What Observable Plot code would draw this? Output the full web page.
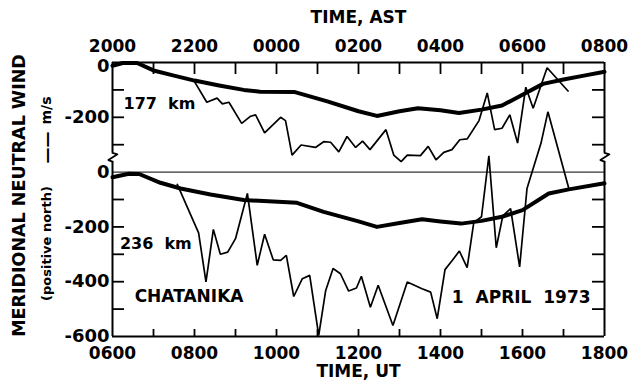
<!DOCTYPE html>
<html><head><meta charset="utf-8">
<script src="https://cdn.jsdelivr.net/npm/d3@7"></script>
<script src="https://cdn.jsdelivr.net/npm/@observablehq/plot@0.6"></script>
<style>body{margin:0;background:#fff}</style>
</head><body><div id="chart"></div>
<script>
// ---------- data (UT hours, m/s) ----------
const model177UT = [6.0, 6.25, 6.6, 7.0, 7.5, 8.0, 8.6, 9.2, 9.6, 10.45, 11.24, 12.0, 12.45, 13.0, 13.45, 14.0, 14.45, 15.0, 15.5, 16.0, 16.5, 17.0, 17.5, 18.0];
const model177V  = [-12, -2, -2, -29, -48, -66, -84, -100, -107, -108, -142, -178, -195, -178, -167, -174, -184, -172, -157, -118, -78, -62, -48, -34];

const data177UT = [8.0, 8.3, 8.55, 8.68, 8.84, 9.15, 9.37, 9.49, 9.71, 10.1, 10.22, 10.38, 10.6, 10.95, 11.15, 11.32, 11.52, 11.72, 11.93, 12.1, 12.28, 12.67, 12.86, 13.04, 13.19, 13.51, 13.7, 13.89, 14.08, 14.28, 14.47, 14.65, 14.94, 15.14, 15.32, 15.5, 15.69, 15.88, 16.08, 16.26, 16.6, 17.11];
const data177V  = [-70, -145, -130, -151, -145, -222, -196, -191, -257, -200, -212, -338, -301, -310, -289, -291, -326, -270, -310, -287, -318, -245, -338, -362, -338, -340, -306, -355, -328, -318, -282, -279, -212, -111, -245, -240, -191, -294, -90, -167, -19, -104];

const model236UT = [6.0, 6.4, 6.65, 7.17, 7.66, 8.39, 9.2, 10.5, 11.15, 12.0, 12.45, 13.0, 13.55, 14.0, 14.5, 15.0, 15.5, 16.0, 16.64, 17.13, 18.0];
const model236V  = [-19, -6, -7, -39, -60, -82, -102, -112, -145, -180, -200, -186, -172, -180, -188, -178, -163, -139, -78, -63, -41];

const data236UT = [7.58, 8.1, 8.28, 8.46, 8.63, 8.81, 9.0, 9.29, 9.53, 9.71, 9.92, 10.1, 10.24, 10.42, 10.63, 10.81, 11.03, 11.2, 11.38, 11.56, 11.76, 11.95, 12.07, 12.29, 12.48, 12.84, 13.19, 13.55, 13.76, 13.92, 14.11, 14.29, 14.46, 14.65, 14.81, 15.0, 15.18, 15.36, 15.52, 15.71, 15.93, 16.11, 16.45, 16.62, 17.13];
const data236V  = [-45, -222, -401, -209, -300, -292, -243, -78, -340, -227, -320, -322, -304, -454, -389, -377, -596, -432, -352, -371, -434, -423, -380, -493, -413, -560, -401, -426, -438, -535, -356, -322, -288, -349, -185, -163, 59, -276, -160, -133, -346, -60, 105, 220, -60];

// axis ticks / labels
const utLabelTicks = [6, 8, 10, 12, 14, 16, 18];
const utLabels     = ["0600", "0800", "1000", "1200", "1400", "1600", "1800"];
const astLabels    = ["2000", "2200", "0000", "0200", "0400", "0600", "0800"];
const hourTicks    = [7, 8, 9, 10, 11, 12, 13, 14, 15, 16, 17];
const upperTopLabel = [0];
const upperLabelVals = [-200];
const lowerLabelVals = [0, -200, -400, -600];
const upperMinorVals = [-100, -200, -300];
const lowerMinorVals = [-100, -200, -300, -400, -500];

// annotations
const annUpperText = ["177\u00a0\u00a0km"];
const annUpperUT = [6.27];
const annUpperV = [-150];
const annLowerText = ["236\u00a0\u00a0km", "CHATANIKA"];
const annLowerUT = [6.18, 6.54];
const annLowerV = [-262, -454];
const dateText = ["1\u00a0\u00a0APRIL\u00a0\u00a01973"];
const dateUT = [17.66];
const dateV = [-457];

// ---------- layout ----------
const OFFSET = 400;             // upper panel is shifted up by this many m/s on the shared scale
const BREAK_HI = 70, BREAK_LO = 38;
const W = 637, H = 380, ML = 112, MR = 33, MT = 62, MB = 44;
const plotW = W - ML - MR, plotH = H - MT - MB;

const up = v => v + OFFSET;
const tbl = (xs, vs, f) => xs.map((x, i) => ({x, y: f(vs[i])}));
const id = v => v;

const m177 = tbl(model177UT, model177V, up);
const d177 = tbl(data177UT, data177V, up);
const m236 = tbl(model236UT, model236V, id);
const d236 = tbl(data236UT, data236V, id);

const yLabelPos = [...upperLabelVals.map(up), ...lowerLabelVals];
const yLabelTxt = [...upperLabelVals, ...lowerLabelVals].map(v => String(v));
const yTopPos = upperTopLabel.map(up);
const yTickPos = [...upperMinorVals.map(up), ...lowerMinorVals];

const zig = x0 => [
  {x: x0, y: BREAK_HI}, {x: x0 + 0.12, y: BREAK_HI - 5}, {x: x0 - 0.1, y: BREAK_LO + 6}, {x: x0, y: BREAK_LO}
];
const [xmin, xmax] = [6, 18];

const chart = Plot.plot({
  width: W, height: H,
  marginLeft: ML, marginRight: MR, marginTop: MT, marginBottom: MB,
  style: {fontFamily: "DejaVu Sans", fontSize: "17px", fontWeight: "bold", background: "#fff", color: "#000"},
  x: {domain: [xmin, xmax]},
  y: {domain: [-600, OFFSET]},
  marks: [
    // axes labels
    Plot.axisX({anchor: "bottom", ticks: utLabelTicks, tickFormat: d => utLabels[utLabelTicks.indexOf(d)], tickSize: 0, tickPadding: 10, label: null, fontSize: 17}),
    Plot.axisX({anchor: "top", ticks: utLabelTicks, tickFormat: d => astLabels[utLabelTicks.indexOf(d)], tickSize: 0, tickPadding: 11, label: null, fontSize: 17}),
    Plot.axisY({anchor: "left", ticks: yLabelPos, tickFormat: d => yLabelTxt[yLabelPos.indexOf(d)], tickSize: 0, tickPadding: 3, label: null, fontSize: 18}),
    Plot.axisY({anchor: "left", ticks: yTopPos, tickFormat: d => String(upperTopLabel[yTopPos.indexOf(d)]), tickSize: 0, tickPadding: 3, label: null, fontSize: 18, dy: 4}),
    // inward ticks
    Plot.tickY(yTickPos, {y: d => d, insetRight: plotW - 12, strokeWidth: 1.8}),
    Plot.tickY(yTickPos, {y: d => d, insetLeft: plotW - 12, strokeWidth: 1.8}),
    Plot.tickX(hourTicks, {x: d => d, insetBottom: plotH - 12, strokeWidth: 1.8}),
    Plot.tickX(hourTicks, {x: d => d, insetTop: plotH - 7, strokeWidth: 1.8}),
    // frame
    Plot.ruleY([OFFSET, -600], {strokeWidth: 2}),
    Plot.ruleY([0], {strokeWidth: 1}),
    Plot.ruleX([xmin, xmax], {y1: OFFSET, y2: BREAK_HI, strokeWidth: 2}),
    Plot.ruleX([xmin, xmax], {y1: BREAK_LO, y2: -600, strokeWidth: 2}),
    Plot.line(zig(xmin), {x: "x", y: "y", strokeWidth: 1.8}),
    Plot.line(zig(xmax), {x: "x", y: "y", strokeWidth: 1.8}),
    // series
    Plot.line(m177, {x: "x", y: "y", strokeWidth: 4, strokeLinejoin: "round"}),
    Plot.line(d177, {x: "x", y: "y", strokeWidth: 1.7, strokeLinejoin: "miter"}),
    Plot.line(m236, {x: "x", y: "y", strokeWidth: 4, strokeLinejoin: "round"}),
    Plot.line(d236, {x: "x", y: "y", strokeWidth: 1.7, strokeLinejoin: "miter"}),
    // annotations
    Plot.text(annUpperText, {x: (d, i) => annUpperUT[i], y: (d, i) => up(annUpperV[i]), text: d => d, textAnchor: "start", fontSize: 16}),
    Plot.text(annLowerText.slice(0, 1), {x: (d, i) => annLowerUT[i], y: (d, i) => annLowerV[i], text: d => d, textAnchor: "start", fontSize: 16}),
    Plot.text(annLowerText.slice(1), {x: (d, i) => annLowerUT[i + 1], y: (d, i) => annLowerV[i + 1], text: d => d, textAnchor: "start", fontSize: 17}),
    Plot.text(dateText, {x: (d, i) => dateUT[i], y: (d, i) => dateV[i], text: d => d, textAnchor: "end", fontSize: 17}),
    // axis titles
    Plot.text(["TIME, AST"], {frameAnchor: "top", dy: -45, text: d => d, textAnchor: "middle", lineAnchor: "middle"}),
    Plot.text(["TIME, UT"], {frameAnchor: "bottom", dy: 35, text: d => d, textAnchor: "middle", lineAnchor: "middle"}),
    Plot.text(["MERIDIONAL NEUTRAL WIND"], {frameAnchor: "left", dx: -93, dy: -4, rotate: -90, text: d => d, textAnchor: "middle", lineAnchor: "middle", fontSize: 17.5}),
    Plot.text(["(positive north)"], {frameAnchor: "left", dx: -66, dy: 44, rotate: -90, text: d => d, textAnchor: "middle", lineAnchor: "middle", fontSize: 13}),
    Plot.text(["——"], {frameAnchor: "left", dx: -66, dy: -52, rotate: -90, text: d => d, textAnchor: "middle", lineAnchor: "middle", fontSize: 16}),
    Plot.text(["m/s"], {frameAnchor: "left", dx: -66, dy: -89, rotate: -90, text: d => d, textAnchor: "middle", lineAnchor: "middle", fontSize: 14})
  ]
});
document.getElementById("chart").append(chart);
</script>
</body></html>
